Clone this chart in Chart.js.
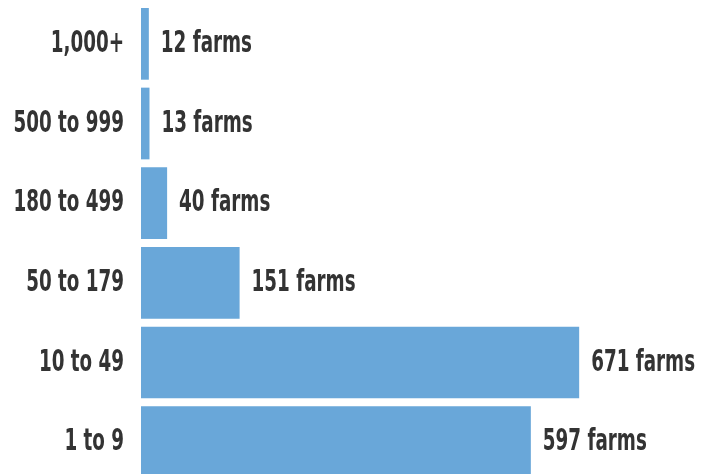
<!DOCTYPE html>
<html>
<head>
<meta charset="utf-8">
<script src="https://cdn.jsdelivr.net/npm/chart.js@4.4.1/dist/chart.umd.min.js"></script>
<style>
  html, body { margin: 0; padding: 0; background: #ffffff; overflow: hidden; }
  #wrap { position: relative; width: 715px; height: 482px; }
</style>
</head>
<body>
<div id="wrap"><canvas id="c"></canvas></div>
<script>
const categories = ["1,000+", "500 to 999", "180 to 499", "50 to 179", "10 to 49", "1 to 9"];
const farms = [12, 13, 40, 151, 671, 597];
const valueSuffix = " farms";

const FONT = "'DejaVu Sans Condensed', 'DejaVu Sans', sans-serif";
const FONT_SIZE = 29.5;
const SQUEEZE = 0.69;
const TEXT_COLOR = "#333333";
const BAR_COLOR = "#69a7d9";

function drawNarrow(ctx, text, x, y, align) {
  ctx.save();
  ctx.translate(x, y);
  ctx.scale(SQUEEZE, 1);
  ctx.textAlign = align;
  ctx.textBaseline = "alphabetic";
  ctx.fillText(text, 0, 0);
  ctx.restore();
}

const narrowText = {
  id: "narrowText",
  afterDatasetsDraw(chart) {
    const ctx = chart.ctx;
    const meta = chart.getDatasetMeta(0);
    const yScale = chart.scales.y;
    ctx.save();
    ctx.font = "bold " + FONT_SIZE + "px " + FONT;
    ctx.fillStyle = TEXT_COLOR;
    // category tick labels, placed by the y scale
    yScale.ticks.forEach((t, i) => {
      const y = yScale.getPixelForTick(i);
      drawNarrow(ctx, chart.data.labels[i], yScale.right - 17, y + 8, "right");
    });
    // value labels at the end of each bar
    meta.data.forEach((bar, i) => {
      const v = chart.data.datasets[0].data[i];
      drawNarrow(ctx, v + valueSuffix, bar.x + 12, bar.y + 8, "left");
    });
    ctx.restore();
  }
};

new Chart(document.getElementById("c"), {
  type: "bar",
  data: {
    labels: categories,
    datasets: [{
      data: farms,
      backgroundColor: BAR_COLOR,
      borderWidth: 0,
      barPercentage: 0.9,
      categoryPercentage: 1.0
    }]
  },
  options: {
    indexAxis: "y",
    responsive: true,
    maintainAspectRatio: false,
    animation: false,
    layout: { padding: { top: 4, bottom: 0, left: 0, right: 0 } },
    plugins: { legend: { display: false }, tooltip: { enabled: false } },
    scales: {
      x: { display: false, min: 0, max: 879 },
      y: {
        grid: { display: false, drawTicks: false },
        border: { display: false },
        ticks: { display: false },
        afterFit(scale) {
          scale.width = 141;
          scale.paddingTop = 0;
          scale.paddingBottom = 0;
        }
      }
    }
  },
  plugins: [narrowText]
});
</script>
</body>
</html>
